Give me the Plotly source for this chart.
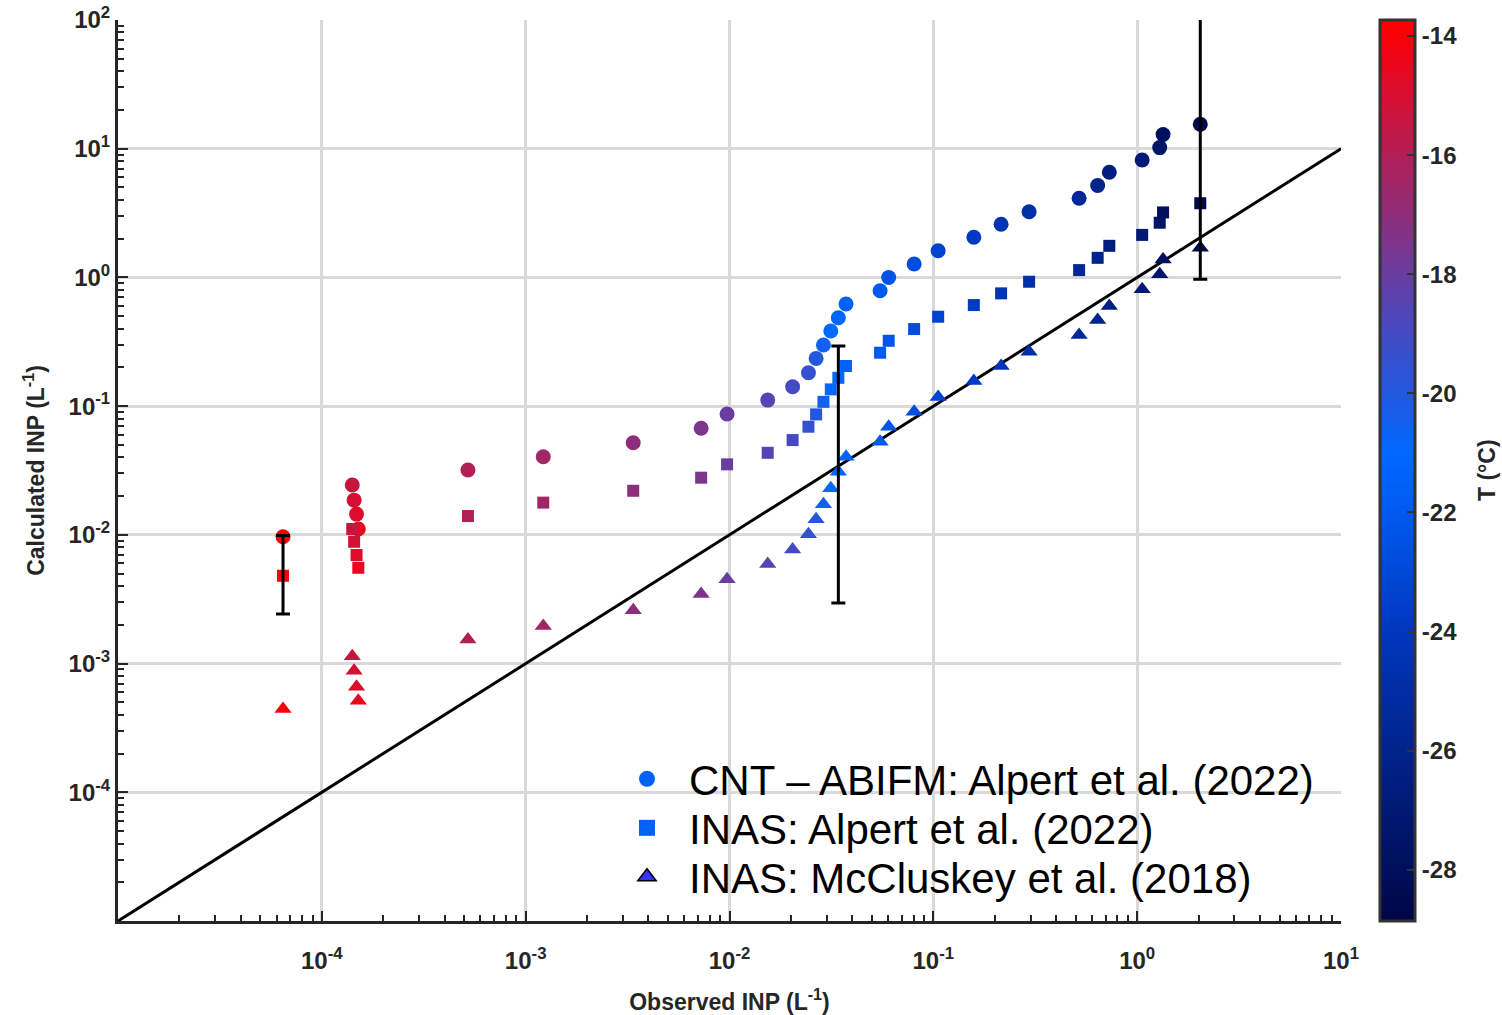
import plotly.graph_objects as go

# ---- data ----
observed = [6.45e-5, 1.41e-4, 1.44e-4, 1.48e-4, 1.51e-4, 5.21e-4, 1.22e-3, 3.37e-3, 7.26e-3, 9.73e-3,
            1.54e-2, 2.04e-2, 2.44e-2, 2.66e-2, 2.89e-2, 3.14e-2, 3.42e-2, 3.73e-2, 5.48e-2, 6.04e-2,
            8.05e-2, 0.1056, 0.158, 0.215, 0.295, 0.519, 0.640, 0.730, 1.058, 1.29, 1.34, 2.04]
temperature = [-14.0, -15.4, -15.1, -14.8, -14.5, -16.0, -16.5, -17.0, -17.5, -18.0,
               -18.5, -19.0, -19.5, -20.0, -20.5, -21.0, -21.2, -21.5, -22.0, -22.3,
               -22.8, -23.3, -23.8, -24.3, -24.8, -25.5, -26.0, -26.5, -27.0, -27.5, -28.0, -28.6]
cnt_abifm = [9.66e-3, 2.44e-2, 1.86e-2, 1.45e-2, 1.11e-2, 3.19e-2, 4.04e-2, 5.20e-2, 6.73e-2, 8.68e-2,
             0.1114, 0.1415, 0.1818, 0.235, 0.2984, 0.3833, 0.486, 0.621, 0.788, 1.00,
             1.27, 1.61, 2.05, 2.59, 3.24, 4.12, 5.18, 6.56, 8.17, 10.2, 12.9, 15.5]
inas_alpert = [4.81e-3, 1.11e-2, 8.84e-3, 6.97e-3, 5.55e-3, 1.40e-2, 1.78e-2, 2.20e-2, 2.78e-2, 3.53e-2,
               4.34e-2, 5.45e-2, 6.92e-2, 8.63e-2, 0.108, 0.135, 0.166, 0.205, 0.260, 0.322,
               0.397, 0.495, 0.610, 0.752, 0.926, 1.14, 1.42, 1.76, 2.14, 2.66, 3.20, 3.77]
inas_mccluskey = [4.43e-4, 1.14e-3, 8.79e-4, 6.61e-4, 5.14e-4, 1.54e-3, 1.96e-3, 2.60e-3, 3.47e-3, 4.51e-3,
                  5.93e-3, 7.71e-3, 1.01e-2, 1.32e-2, 1.73e-2, 2.30e-2, 3.09e-2, 4.04e-2, 5.29e-2, 6.92e-2,
                  9.05e-2, 0.118, 0.157, 0.205, 0.265, 0.357, 0.467, 0.600, 0.808, 1.06, 1.38, 1.70]

# uncertainty bars
eb_x = [6.45e-5, 3.42e-2, 2.04]
eb_low = [2.43e-3, 2.95e-3, 0.97]
eb_high = [9.9e-3, 0.293, 300.0]

one_to_one = [1e-5, 1e1]

x_tickvals = [1e-4, 1e-3, 1e-2, 1e-1, 1e0, 1e1]
x_ticktext = ["10<sup>-4</sup>", "10<sup>-3</sup>", "10<sup>-2</sup>", "10<sup>-1</sup>",
              "10<sup>0</sup>", "10<sup>1</sup>"]
y_tickvals = [1e-4, 1e-3, 1e-2, 1e-1, 1e0, 1e1, 1e2]
y_ticktext = ["10<sup>-4</sup>", "10<sup>-3</sup>", "10<sup>-2</sup>", "10<sup>-1</sup>",
              "10<sup>0</sup>", "10<sup>1</sup>", "10<sup>2</sup>"]
cb_tickvals = [-14, -16, -18, -20, -22, -24, -26, -28]
cb_ticktext = ["-14", "-16", "-18", "-20", "-22", "-24", "-26", "-28"]

legend_names = ["CNT – ABIFM: Alpert et al. (2022)", "INAS: Alpert et al. (2022)",
                "INAS: McCluskey et al. (2018)"]

# colormap (temperature -> colour)
cmin, cmax = -28.86, -13.73
cb_temps = [-28.86, -28.0, -26.0, -24.0, -22.0, -21.0, -20.0, -19.0, -18.0, -17.0, -16.0, -15.0, -14.0, -13.73]
cb_colors = ["rgb(0,5,72)", "rgb(0,15,92)", "rgb(0,35,140)", "rgb(0,55,190)", "rgb(0,90,240)",
             "rgb(0,105,255)", "rgb(35,88,222)", "rgb(68,74,196)", "rgb(105,60,160)", "rgb(142,45,122)",
             "rgb(178,30,86)", "rgb(215,15,50)", "rgb(250,0,8)", "rgb(255,0,0)"]
colorscale = [[(t - cmin) / (cmax - cmin), c] for t, c in zip(cb_temps, cb_colors)]

minor_vals_x = [k * 10.0 ** e for e in range(-5, 1) for k in range(2, 10)]
minor_vals_y = [k * 10.0 ** e for e in range(-5, 2) for k in range(2, 10)]

FONT = "Liberation Sans, Arial, sans-serif"
AX = "#262626"

fig = go.Figure()

# 1:1 line
fig.add_trace(go.Scatter(x=one_to_one, y=one_to_one, mode="lines",
                         line=dict(color="black", width=3), showlegend=False, hoverinfo="skip"))

fig.add_trace(go.Scatter(x=observed, y=cnt_abifm, mode="markers", showlegend=False,
                         marker=dict(symbol="circle", size=15, color=temperature, coloraxis="coloraxis",
                                     line=dict(width=0))))
fig.add_trace(go.Scatter(x=observed, y=inas_alpert, mode="markers", showlegend=False,
                         marker=dict(symbol="square", size=12, color=temperature, coloraxis="coloraxis",
                                     line=dict(width=0))))
fig.add_trace(go.Scatter(x=observed, y=inas_mccluskey, mode="markers", showlegend=False,
                         marker=dict(symbol="triangle-up", size=15, color=temperature, coloraxis="coloraxis",
                                     line=dict(width=0))))

# error bars (centre = geometric mean of bounds)
eb_c = [(lo * hi) ** 0.5 for lo, hi in zip(eb_low, eb_high)]
fig.add_trace(go.Scatter(x=eb_x, y=eb_c, mode="markers", showlegend=False, hoverinfo="skip",
                         marker=dict(size=1, opacity=0),
                         error_y=dict(type="data", symmetric=False,
                                      array=[hi - c for hi, c in zip(eb_high, eb_c)],
                                      arrayminus=[c - lo for lo, c in zip(eb_low, eb_c)],
                                      color="black", thickness=3, width=7)))

# legend entries (one legend per row so the row spacing matches)
fig.add_trace(go.Scatter(x=[None], y=[None], mode="markers", name=legend_names[0], legend="legend",
                         marker=dict(symbol="circle", size=22, color="rgb(0,98,245)")))
fig.add_trace(go.Scatter(x=[None], y=[None], mode="markers", name=legend_names[1], legend="legend2",
                         marker=dict(symbol="square", size=18, color="rgb(0,98,245)")))
fig.add_trace(go.Scatter(x=[None], y=[None], mode="markers", name=legend_names[2], legend="legend3",
                         marker=dict(symbol="triangle-up", size=22, color="rgb(55,50,255)",
                                     line=dict(color="black", width=1.5))))

axis_common = dict(type="log", showline=True, linecolor=AX, linewidth=3, mirror=False,
                   ticks="inside", ticklen=10, tickwidth=2, tickcolor=AX, automargin=False,
                   ticklabeloverflow="allow",
                   showgrid=True, gridcolor="#d9d9d9", gridwidth=2.5, zeroline=False,
                   tickfont=dict(family=FONT, size=24, color=AX, weight="bold"))

legend_common = dict(x=0.3982, xanchor="left", yanchor="middle", bgcolor="rgba(0,0,0,0)", borderwidth=0,
                     font=dict(family=FONT, size=42, color="black"), itemwidth=74, itemsizing="trace")

fig.update_layout(
    width=1502, height=1015,
    margin=dict(l=118, r=161, t=20, b=94, autoexpand=False),
    paper_bgcolor="white", plot_bgcolor="white",
    xaxis=dict(axis_common, range=[-5, 1], tickmode="array", tickvals=x_tickvals, ticktext=x_ticktext,
               ticklabelstandoff=16,
               minor=dict(tickmode="array", tickvals=minor_vals_x, ticks="inside", ticklen=6,
                          tickwidth=1.5, tickcolor=AX, showgrid=False),
               title=dict(text="Observed INP (L<sup>-1</sup>)", standoff=30,
                          font=dict(family=FONT, size=23, color=AX, weight="bold"))),
    yaxis=dict(axis_common, range=[-5, 2], tickmode="array", tickvals=y_tickvals, ticktext=y_ticktext,
               minor=dict(tickmode="array", tickvals=minor_vals_y, ticks="inside", ticklen=6,
                          tickwidth=1.5, tickcolor=AX, showgrid=False),
               title=dict(text="Calculated INP (L<sup>-1</sup>)", standoff=18,
                          font=dict(family=FONT, size=23, color=AX, weight="bold"))),
    coloraxis=dict(colorscale=colorscale, cmin=cmin, cmax=cmax,
                   colorbar=dict(x=1.0319, xanchor="left", xpad=0, y=0.5, yanchor="middle", len=1,
                                 ypad=0, thickness=35, outlinewidth=3, outlinecolor="#333",
                                 ticks="inside", ticklen=9, tickwidth=2, tickcolor="#333",
                                 tickvals=cb_tickvals, ticktext=cb_ticktext,
                                 tickfont=dict(family=FONT, size=24, color=AX, weight="bold"))),
    legend=dict(legend_common, y=0.1576),
    legend2=dict(legend_common, y=0.1032),
    legend3=dict(legend_common, y=0.0488),
    shapes=[dict(type="rect", xref="paper", yref="paper", x0=0.4023, x1=0.991, y0=0.017, y1=0.2009,
                 fillcolor="white", line=dict(width=0), layer="between")],
    annotations=[dict(text="T (°C)", xref="paper", yref="paper", x=1.1194, y=0.5006,
                      xanchor="center", yanchor="middle", textangle=-90, showarrow=False,
                      font=dict(family=FONT, size=23, color=AX, weight="bold"))],
)

# remove the default page margin so the figure fills the 1502x1015 window exactly
fig.write_html("out.html", config={"displayModeBar": False},
               post_script="document.body.style.margin='0px';")
